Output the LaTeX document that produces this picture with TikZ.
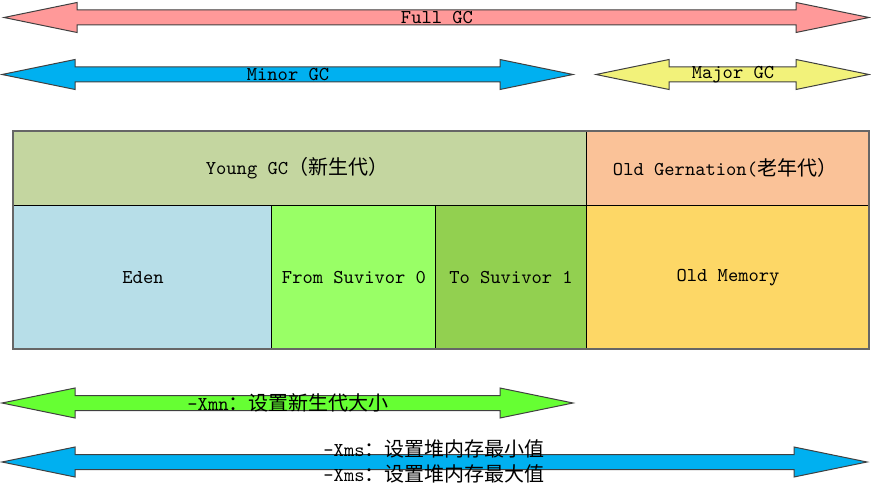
\documentclass[tikz,border=0pt]{standalone}
\usepackage{fontspec}
\newfontfamily\cjk{Noto Sans CJK SC}
\usepackage{tikz}
\definecolor{fullpink}{RGB}{255,153,153}
\definecolor{minorblue}{RGB}{0,176,240}
\definecolor{majoryellow}{RGB}{242,242,122}
\definecolor{xmngreen}{RGB}{102,255,51}
\definecolor{younggreen}{RGB}{196,214,160}
\definecolor{oldorange}{RGB}{250,194,152}
\definecolor{edenblue}{RGB}{183,222,232}
\definecolor{fromgreen}{RGB}{153,255,102}
\definecolor{togreen}{RGB}{146,208,80}
\definecolor{memyellow}{RGB}{253,215,102}
\tikzset{
	arrowbody/.style={draw=black!75, line width=0.5pt, line join=miter},
	cellbox/.style={draw=black, line width=0.5pt},
	lbl/.style={anchor=center, inner sep=0pt, font=\ttfamily\fontsize{9.8}{11}\selectfont}
}
\newcommand{\gcarrow}[4]{%
	\filldraw[arrowbody, fill=#4] (#1,#3) -- ({#1+73},{#3-15}) -- ({#1+73},{#3-7.5}) -- ({#2-73},{#3-7.5}) -- ({#2-73},{#3-15}) -- (#2,#3) -- ({#2-73},{#3+15}) -- ({#2-73},{#3+7.5}) -- ({#1+73},{#3+7.5}) -- ({#1+73},{#3+15}) -- cycle;}
\newcommand{\zh}[1]{{\cjk\fontsize{10}{11}\selectfont #1}}

\begin{document}
\begin{tikzpicture}[x=0.5pt, y=-0.5pt]
	\useasboundingbox (0, 0) rectangle (871, 496);
	\gcarrow{4}{869}{17.5}{fullpink}
	\gcarrow{2}{573}{74.5}{minorblue}
	\gcarrow{596}{869}{74.5}{majoryellow}
	\gcarrow{2}{573}{403}{xmngreen}
	\gcarrow{2}{867}{462}{minorblue}
	\filldraw[cellbox, fill=younggreen] (13, 131) rectangle (586, 206);
	\filldraw[cellbox, fill=oldorange] (586, 131) rectangle (869, 206);
	\filldraw[cellbox, fill=edenblue] (13, 206) rectangle (271, 349);
	\filldraw[cellbox, fill=fromgreen] (271, 206) rectangle (435, 349);
	\filldraw[cellbox, fill=togreen] (435, 206) rectangle (586, 349);
	\filldraw[cellbox, fill=memyellow] (586, 206) rectangle (869, 349);
	\draw[draw=black!60, line width=0.6pt] (13, 131) rectangle (869, 349);
	\node(full)[lbl] at (437, 17.5) {Full GC};
	\node(minor)[lbl] at (288, 74.5) {Minor GC};
	\node(major)[lbl] at (733, 74.5) {Major GC};
	\node(young)[lbl] at (297, 168) {Young GC\zh{（新生代）}};
	\node(oldgen)[lbl] at (725, 168) {Old Gernation(\zh{老年代）}};
	\node(eden)[lbl] at (143, 278) {Eden};
	\node(from)[lbl] at (354, 278) {From Suvivor 0};
	\node(to)[lbl] at (511, 278) {To Suvivor 1};
	\node(oldmem)[lbl] at (728, 278) {Old Memory};
	\node(xmn)[lbl] at (288, 403) {-Xmn\zh{：设置新生代大小}};
	\node(xmsmin)[lbl] at (434, 449) {-Xms\zh{：设置堆内存最小值}};
	\node(xmsmax)[lbl] at (434, 474) {-Xms\zh{：设置堆内存最大值}};
\end{tikzpicture}
\end{document}
